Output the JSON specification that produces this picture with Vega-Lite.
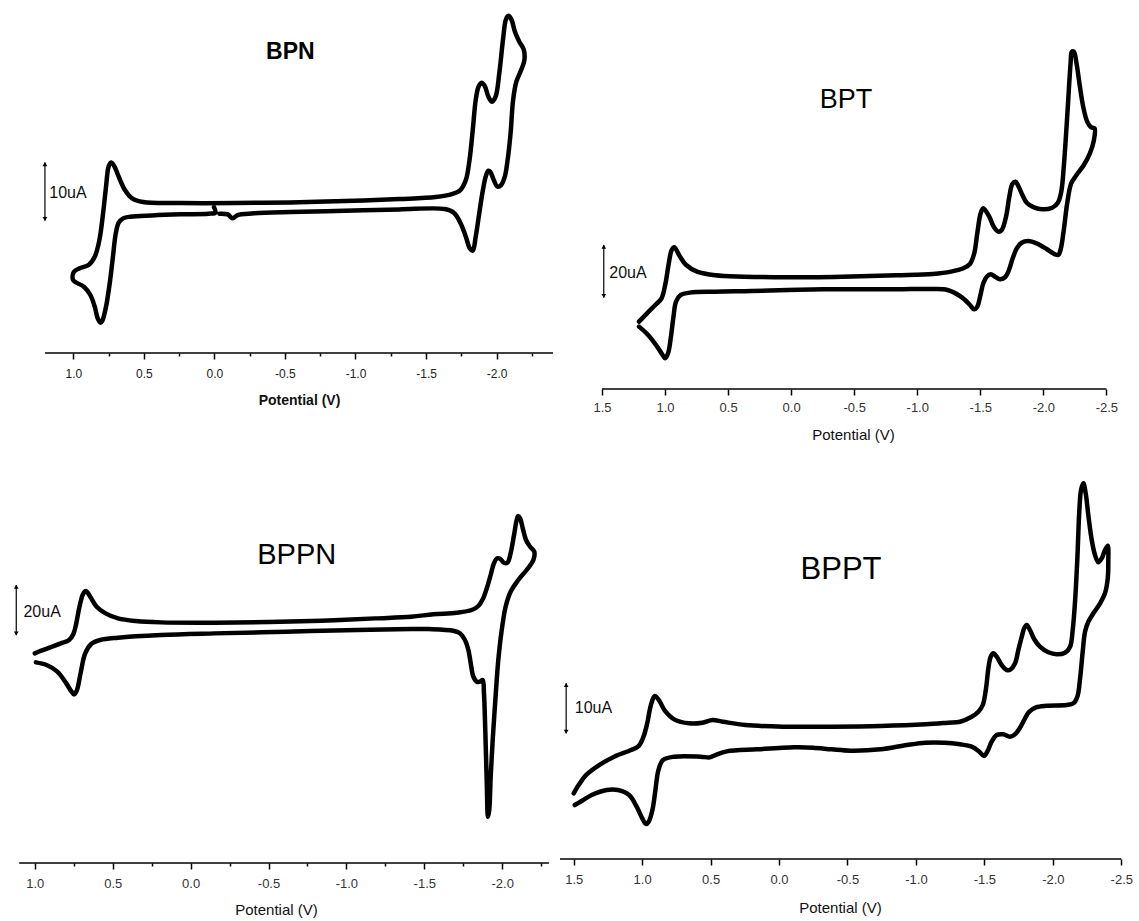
{
  "$schema": "https://vega.github.io/schema/vega-lite/v6.json",
  "background": "white",
  "padding": {"left": 10, "top": 5, "right": 0, "bottom": 0},
  "columns": 2,
  "align": "each",
  "bounds": "flush",
  "spacing": {"row": 81, "column": 6},
  "config": {
    "view": {"stroke": null},
    "font": "Liberation Sans",
    "axisY": {"disable": true},
    "axisX": {
      "domain": false, "grid": false, "tickColor": "black", "tickWidth": 1.5,
      "labelFont": "Liberation Sans", "titleFont": "Liberation Sans",
      "labelFlush": false, "labelOverlap": false, "labelBound": false,
      "titleBaseline": "middle", "titleAlign": "center",
      "labelExpr": "abs(datum.value*2 - round(datum.value*2)) < 0.01 ? (datum.value < -0.001 ? '-' : '') + format(abs(datum.value), '.1f') : ''",
      "tickSize": {"condition": {"test": "abs(datum.value*2 - round(datum.value*2)) < 0.01", "value": 6}, "value": 3}
    }
  },
  "datasets": {
    "bpn": [
      {"o":1,"v":0.003,"i":-0.11},{"o":2,"v":-0.007,"i":-1.03},{"o":3,"v":0.042,"i":-1.2},{"o":4,"v":0.235,"i":-1.31},
      {"o":5,"v":0.441,"i":-1.49},{"o":6,"v":0.596,"i":-1.71},{"o":7,"v":0.647,"i":-2.0},{"o":8,"v":0.678,"i":-2.74},
      {"o":9,"v":0.699,"i":-4.57},{"o":10,"v":0.719,"i":-8.57},{"o":11,"v":0.742,"i":-13.14},{"o":12,"v":0.768,"i":-17.14},
      {"o":13,"v":0.794,"i":-19.54},{"o":14,"v":0.807,"i":-19.89},{"o":15,"v":0.827,"i":-19.14},{"o":16,"v":0.848,"i":-17.14},
      {"o":17,"v":0.879,"i":-15.14},{"o":18,"v":0.925,"i":-13.71},{"o":19,"v":0.977,"i":-13.03},{"o":20,"v":1.003,"i":-12.46},
      {"o":21,"v":0.995,"i":-11.14},{"o":22,"v":0.956,"i":-10.57},{"o":23,"v":0.892,"i":-10.0},{"o":24,"v":0.848,"i":-8.57},
      {"o":25,"v":0.815,"i":-5.71},{"o":26,"v":0.789,"i":-1.14},{"o":27,"v":0.768,"i":3.43},{"o":28,"v":0.75,"i":6.86},
      {"o":29,"v":0.732,"i":7.6},{"o":30,"v":0.711,"i":7.03},{"o":31,"v":0.678,"i":5.14},{"o":32,"v":0.634,"i":2.86},
      {"o":33,"v":0.583,"i":1.43},{"o":34,"v":0.505,"i":0.8},{"o":35,"v":0.235,"i":0.63},{"o":36,"v":-0.151,"i":0.63},
      {"o":37,"v":-0.538,"i":0.74},{"o":38,"v":-0.924,"i":0.97},{"o":39,"v":-1.311,"i":1.31},{"o":40,"v":-1.568,"i":1.66},
      {"o":41,"v":-1.684,"i":2.17},{"o":42,"v":-1.743,"i":2.86},{"o":43,"v":-1.782,"i":4.57},{"o":44,"v":-1.808,"i":8.0},
      {"o":45,"v":-1.831,"i":13.14},{"o":46,"v":-1.852,"i":18.29},{"o":47,"v":-1.872,"i":20.57},{"o":48,"v":-1.893,"i":21.26},
      {"o":49,"v":-1.916,"i":20.69},{"o":50,"v":-1.942,"i":18.86},{"o":51,"v":-1.968,"i":18.0},{"o":52,"v":-1.993,"i":18.86},
      {"o":53,"v":-2.019,"i":22.86},{"o":54,"v":-2.045,"i":28.57},{"o":55,"v":-2.065,"i":32.0},{"o":56,"v":-2.083,"i":32.74},
      {"o":57,"v":-2.104,"i":32.17},{"o":58,"v":-2.13,"i":30.0},{"o":59,"v":-2.161,"i":28.29},{"o":60,"v":-2.192,"i":26.97},
      {"o":61,"v":-2.197,"i":25.14},{"o":62,"v":-2.174,"i":23.43},{"o":63,"v":-2.14,"i":21.43},{"o":64,"v":-2.117,"i":18.29},
      {"o":65,"v":-2.099,"i":12.57},{"o":66,"v":-2.078,"i":8.0},{"o":67,"v":-2.058,"i":5.14},{"o":68,"v":-2.032,"i":3.71},
      {"o":69,"v":-2.006,"i":3.43},{"o":70,"v":-1.98,"i":4.57},{"o":71,"v":-1.955,"i":6.0},{"o":72,"v":-1.942,"i":6.17},
      {"o":73,"v":-1.924,"i":5.26},{"o":74,"v":-1.903,"i":2.86},{"o":75,"v":-1.877,"i":-1.14},{"o":76,"v":-1.852,"i":-5.14},
      {"o":77,"v":-1.831,"i":-7.54},{"o":78,"v":-1.81,"i":-7.14},{"o":79,"v":-1.782,"i":-5.14},{"o":80,"v":-1.743,"i":-2.74},
      {"o":81,"v":-1.697,"i":-1.03},{"o":82,"v":-1.633,"i":-0.4},{"o":83,"v":-1.311,"i":-0.46},{"o":84,"v":-0.924,"i":-0.69},
      {"o":85,"v":-0.538,"i":-0.91},{"o":86,"v":-0.28,"i":-1.14},{"o":87,"v":-0.164,"i":-1.43},{"o":88,"v":-0.131,"i":-2.0},
      {"o":89,"v":-0.113,"i":-1.71},{"o":90,"v":-0.095,"i":-1.31},{"o":91,"v":-0.036,"i":-1.2}
    ],
    "bpt": [
      {"o":1,"v":1.2065,"i":-16.46},{"o":2,"v":1.1345,"i":-19.62},{"o":3,"v":1.0626,"i":-24.05},{"o":4,"v":1.0194,"i":-27.22},
      {"o":5,"v":0.9993,"i":-28.48},{"o":6,"v":0.9763,"i":-26.58},{"o":7,"v":0.9532,"i":-20.25},{"o":8,"v":0.9331,"i":-12.66},
      {"o":9,"v":0.9129,"i":-6.96},{"o":10,"v":0.8755,"i":-4.43},{"o":11,"v":0.8036,"i":-3.54},{"o":12,"v":0.6022,"i":-3.16},
      {"o":13,"v":0.3144,"i":-2.91},{"o":14,"v":0.0266,"i":-2.53},{"o":15,"v":-0.2612,"i":-2.28},{"o":16,"v":-0.5489,"i":-2.28},
      {"o":17,"v":-0.8367,"i":-2.28},{"o":18,"v":-1.1245,"i":-2.15},{"o":19,"v":-1.2396,"i":-2.53},{"o":20,"v":-1.339,"i":-4.82},
      {"o":21,"v":-1.379,"i":-6.34},{"o":22,"v":-1.418,"i":-8.24},{"o":23,"v":-1.45,"i":-9.87},{"o":24,"v":-1.476,"i":-8.89},
      {"o":25,"v":-1.498,"i":-5.09},{"o":26,"v":-1.524,"i":0.0},{"o":27,"v":-1.551,"i":2.51},{"o":28,"v":-1.583,"i":3.42},
      {"o":29,"v":-1.617,"i":2.51},{"o":30,"v":-1.656,"i":1.52},{"o":31,"v":-1.696,"i":2.28},{"o":32,"v":-1.722,"i":4.41},
      {"o":33,"v":-1.757,"i":9.49},{"o":34,"v":-1.789,"i":13.29},{"o":35,"v":-1.828,"i":15.42},{"o":36,"v":-1.881,"i":16.07},
      {"o":37,"v":-1.947,"i":15.19},{"o":38,"v":-2.026,"i":13.03},{"o":39,"v":-2.092,"i":11.01},{"o":40,"v":-2.118,"i":10.75},
      {"o":41,"v":-2.136,"i":12.65},{"o":42,"v":-2.162,"i":20.24},{"o":43,"v":-2.189,"i":30.38},{"o":44,"v":-2.221,"i":37.98},
      {"o":45,"v":-2.263,"i":41.13},{"o":46,"v":-2.321,"i":44.93},{"o":47,"v":-2.369,"i":49.37},{"o":48,"v":-2.401,"i":54.42},
      {"o":49,"v":-2.406,"i":58.87},{"o":50,"v":-2.38,"i":59.25},{"o":51,"v":-2.348,"i":61.39},{"o":52,"v":-2.316,"i":67.07},
      {"o":53,"v":-2.29,"i":74.67},{"o":54,"v":-2.263,"i":83.55},{"o":55,"v":-2.242,"i":87.96},{"o":56,"v":-2.226,"i":87.96},
      {"o":57,"v":-2.216,"i":83.55},{"o":58,"v":-2.202,"i":73.41},{"o":59,"v":-2.184,"i":59.48},{"o":60,"v":-2.162,"i":44.28},
      {"o":61,"v":-2.142,"i":34.79},{"o":62,"v":-2.115,"i":30.61},{"o":63,"v":-2.07,"i":28.71},{"o":64,"v":-1.991,"i":28.1},
      {"o":65,"v":-1.925,"i":28.86},{"o":66,"v":-1.868,"i":30.61},{"o":67,"v":-1.834,"i":33.54},{"o":68,"v":-1.798,"i":37.33},
      {"o":69,"v":-1.779,"i":38.59},{"o":70,"v":-1.754,"i":37.71},{"o":71,"v":-1.73,"i":32.89},{"o":72,"v":-1.704,"i":25.29},
      {"o":73,"v":-1.67,"i":20.24},{"o":74,"v":-1.643,"i":19.6},{"o":75,"v":-1.609,"i":21.27},{"o":76,"v":-1.571,"i":25.29},
      {"o":77,"v":-1.524,"i":28.48},{"o":78,"v":-1.503,"i":26.59},{"o":79,"v":-1.476,"i":18.99},{"o":80,"v":-1.452,"i":11.39},
      {"o":81,"v":-1.418,"i":7.33},{"o":82,"v":-1.366,"i":5.7},{"o":83,"v":-1.2683,"i":4.43},{"o":84,"v":-1.1245,"i":3.54},
      {"o":85,"v":-0.8367,"i":3.04},{"o":86,"v":-0.405,"i":2.53},{"o":87,"v":0.0266,"i":2.28},{"o":88,"v":0.372,"i":2.53},
      {"o":89,"v":0.6022,"i":3.04},{"o":90,"v":0.746,"i":4.43},{"o":91,"v":0.8324,"i":6.96},{"o":92,"v":0.8813,"i":10.13},
      {"o":93,"v":0.9129,"i":12.91},{"o":94,"v":0.9273,"i":13.67},{"o":95,"v":0.9475,"i":12.66},{"o":96,"v":0.9705,"i":7.59},
      {"o":97,"v":0.9964,"i":0.0},{"o":98,"v":1.028,"i":-5.7},{"o":99,"v":1.077,"i":-8.23},{"o":100,"v":1.143,"i":-11.39},
      {"o":101,"v":1.2065,"i":-14.56}
    ],
    "bppn": [
      {"o":1,"v":0.9931,"i":-14.27},{"o":2,"v":0.9243,"i":-15.33},{"o":3,"v":0.8555,"i":-18.0},{"o":4,"v":0.7982,"i":-22.67},
      {"o":5,"v":0.7638,"i":-26.0},{"o":6,"v":0.7477,"i":-27.07},{"o":7,"v":0.7294,"i":-25.33},{"o":8,"v":0.7064,"i":-18.67},
      {"o":9,"v":0.6766,"i":-10.67},{"o":10,"v":0.6376,"i":-6.93},{"o":11,"v":0.5803,"i":-5.33},{"o":12,"v":0.4656,"i":-4.4},
      {"o":13,"v":0.1904,"i":-3.33},{"o":14,"v":-0.1537,"i":-2.67},{"o":15,"v":-0.6124,"i":-2.0},{"o":16,"v":-1.0711,"i":-1.33},
      {"o":17,"v":-1.4151,"i":-0.93},{"o":18,"v":-1.5298,"i":-0.93},{"o":19,"v":-1.686,"i":-1.6},{"o":20,"v":-1.729,"i":-2.64},
      {"o":21,"v":-1.761,"i":-5.32},{"o":22,"v":-1.783,"i":-9.32},{"o":23,"v":-1.798,"i":-14.64},{"o":24,"v":-1.815,"i":-20.0},
      {"o":25,"v":-1.837,"i":-22.0},{"o":26,"v":-1.858,"i":-22.0},{"o":27,"v":-1.875,"i":-21.32},{"o":28,"v":-1.883,"i":-26.64},
      {"o":29,"v":-1.892,"i":-42.64},{"o":30,"v":-1.901,"i":-62.64},{"o":31,"v":-1.909,"i":-76.0},{"o":32,"v":-1.917,"i":-73.32},
      {"o":33,"v":-1.926,"i":-60.0},{"o":34,"v":-1.939,"i":-45.32},{"o":35,"v":-1.956,"i":-29.32},{"o":36,"v":-1.975,"i":-13.32},
      {"o":37,"v":-1.997,"i":-1.32},{"o":38,"v":-2.022,"i":8.0},{"o":39,"v":-2.054,"i":14.0},{"o":40,"v":-2.103,"i":18.68},
      {"o":41,"v":-2.157,"i":22.68},{"o":42,"v":-2.2,"i":26.68},{"o":43,"v":-2.206,"i":30.0},{"o":44,"v":-2.179,"i":32.0},
      {"o":45,"v":-2.153,"i":34.68},{"o":46,"v":-2.132,"i":39.36},{"o":47,"v":-2.115,"i":43.36},{"o":48,"v":-2.103,"i":44.28},
      {"o":49,"v":-2.093,"i":42.68},{"o":50,"v":-2.076,"i":36.68},{"o":51,"v":-2.054,"i":29.36},{"o":52,"v":-2.033,"i":25.6},
      {"o":53,"v":-2.011,"i":25.6},{"o":54,"v":-1.986,"i":27.2},{"o":55,"v":-1.968,"i":27.36},{"o":56,"v":-1.947,"i":25.36},
      {"o":57,"v":-1.926,"i":20.68},{"o":58,"v":-1.901,"i":15.36},{"o":59,"v":-1.875,"i":10.96},{"o":60,"v":-1.847,"i":8.28},
      {"o":61,"v":-1.804,"i":6.68},{"o":62,"v":-1.708,"i":5.6},{"o":63,"v":-1.558,"i":4.96},{"o":64,"v":-1.4151,"i":4.0},
      {"o":65,"v":-1.1858,"i":3.33},{"o":66,"v":-0.8417,"i":2.4},{"o":67,"v":-0.4977,"i":1.87},{"o":68,"v":-0.1537,"i":1.6},
      {"o":69,"v":0.1904,"i":1.73},{"o":70,"v":0.3509,"i":2.27},{"o":71,"v":0.4656,"i":3.33},{"o":72,"v":0.5459,"i":5.33},
      {"o":73,"v":0.6032,"i":8.0},{"o":74,"v":0.6445,"i":12.0},{"o":75,"v":0.672,"i":14.27},{"o":76,"v":0.6904,"i":13.07},
      {"o":77,"v":0.7133,"i":8.0},{"o":78,"v":0.7339,"i":1.33},{"o":79,"v":0.7523,"i":-2.93},{"o":80,"v":0.7798,"i":-5.33},
      {"o":81,"v":0.8326,"i":-6.67},{"o":82,"v":0.9014,"i":-8.27},{"o":83,"v":0.9587,"i":-9.6},{"o":84,"v":1.0,"i":-10.67}
    ],
    "bppt": [
      {"o":1,"v":1.5,"i":-11.33},{"o":2,"v":1.464,"i":-9.67},{"o":3,"v":1.41,"i":-7.67},{"o":4,"v":1.314,"i":-5.67},
      {"o":5,"v":1.204,"i":-4.0},{"o":6,"v":1.081,"i":-2.67},{"o":7,"v":1.026,"i":-1.87},{"o":8,"v":0.99,"i":0.0},
      {"o":9,"v":0.963,"i":2.67},{"o":10,"v":0.936,"i":6.33},{"o":11,"v":0.908,"i":8.13},{"o":12,"v":0.875,"i":7.2},
      {"o":13,"v":0.834,"i":5.2},{"o":14,"v":0.766,"i":3.47},{"o":15,"v":0.656,"i":2.67},{"o":16,"v":0.56,"i":2.8},
      {"o":17,"v":0.486,"i":3.33},{"o":18,"v":0.41,"i":3.0},{"o":19,"v":0.245,"i":2.33},{"o":20,"v":-0.029,"i":2.0},
      {"o":21,"v":-0.385,"i":2.0},{"o":22,"v":-0.741,"i":2.13},{"o":23,"v":-1.07,"i":2.47},{"o":24,"v":-1.234,"i":2.8},
      {"o":25,"v":-1.322,"i":3.0},{"o":26,"v":-1.407,"i":4.0},{"o":27,"v":-1.456,"i":5.0},{"o":28,"v":-1.488,"i":6.34},
      {"o":29,"v":-1.512,"i":9.68},{"o":30,"v":-1.529,"i":13.68},{"o":31,"v":-1.546,"i":16.0},{"o":32,"v":-1.565,"i":16.68},
      {"o":33,"v":-1.59,"i":16.0},{"o":34,"v":-1.626,"i":14.34},{"o":35,"v":-1.663,"i":13.34},{"o":36,"v":-1.692,"i":13.48},
      {"o":37,"v":-1.724,"i":14.68},{"o":38,"v":-1.748,"i":17.34},{"o":39,"v":-1.773,"i":20.0},{"o":40,"v":-1.792,"i":21.8},
      {"o":41,"v":-1.809,"i":22.34},{"o":42,"v":-1.833,"i":21.34},{"o":43,"v":-1.863,"i":19.54},{"o":44,"v":-1.906,"i":18.0},
      {"o":45,"v":-1.967,"i":16.88},{"o":46,"v":-2.028,"i":16.48},{"o":47,"v":-2.089,"i":16.8},{"o":48,"v":-2.126,"i":18.0},
      {"o":49,"v":-2.145,"i":21.34},{"o":50,"v":-2.162,"i":27.0},{"o":51,"v":-2.179,"i":35.68},{"o":52,"v":-2.193,"i":45.0},
      {"o":53,"v":-2.206,"i":49.34},{"o":54,"v":-2.223,"i":50.68},{"o":55,"v":-2.24,"i":48.68},{"o":56,"v":-2.259,"i":44.34},
      {"o":57,"v":-2.284,"i":39.34},{"o":58,"v":-2.308,"i":36.34},{"o":59,"v":-2.332,"i":34.88},{"o":60,"v":-2.357,"i":35.68},
      {"o":61,"v":-2.381,"i":37.34},{"o":62,"v":-2.401,"i":38.2},{"o":63,"v":-2.405,"i":35.0},{"o":64,"v":-2.401,"i":31.68},
      {"o":65,"v":-2.381,"i":28.68},{"o":66,"v":-2.345,"i":26.68},{"o":67,"v":-2.296,"i":24.68},{"o":68,"v":-2.259,"i":23.0},
      {"o":69,"v":-2.235,"i":21.0},{"o":70,"v":-2.218,"i":17.0},{"o":71,"v":-2.199,"i":11.68},{"o":72,"v":-2.179,"i":8.0},
      {"o":73,"v":-2.15,"i":6.68},{"o":74,"v":-2.101,"i":6.34},{"o":75,"v":-1.955,"i":6.2},{"o":76,"v":-1.877,"i":5.88},
      {"o":77,"v":-1.828,"i":5.0},{"o":78,"v":-1.797,"i":3.68},{"o":79,"v":-1.76,"i":1.8},{"o":80,"v":-1.724,"i":0.48},
      {"o":81,"v":-1.687,"i":0.0},{"o":82,"v":-1.638,"i":0.48},{"o":83,"v":-1.59,"i":0.34},{"o":84,"v":-1.553,"i":-1.0},
      {"o":85,"v":-1.521,"i":-3.0},{"o":86,"v":-1.497,"i":-3.86},{"o":87,"v":-1.463,"i":-3.0},{"o":88,"v":-1.407,"i":-2.0},
      {"o":89,"v":-1.322,"i":-1.52},{"o":90,"v":-1.207,"i":-1.2},{"o":91,"v":-1.07,"i":-1.2},{"o":92,"v":-0.933,"i":-1.67},
      {"o":93,"v":-0.741,"i":-2.53},{"o":94,"v":-0.522,"i":-2.8},{"o":95,"v":-0.385,"i":-2.53},{"o":96,"v":-0.248,"i":-2.2},
      {"o":97,"v":-0.111,"i":-2.13},{"o":98,"v":0.163,"i":-2.53},{"o":99,"v":0.382,"i":-2.93},{"o":100,"v":0.464,"i":-3.67},
      {"o":101,"v":0.506,"i":-4.13},{"o":102,"v":0.574,"i":-4.0},{"o":103,"v":0.766,"i":-4.0},{"o":104,"v":0.848,"i":-4.67},
      {"o":105,"v":0.881,"i":-6.67},{"o":106,"v":0.903,"i":-10.67},{"o":107,"v":0.925,"i":-14.67},{"o":108,"v":0.952,"i":-17.0},
      {"o":109,"v":0.971,"i":-17.47},{"o":110,"v":0.999,"i":-16.33},{"o":111,"v":1.04,"i":-14.0},{"o":112,"v":1.095,"i":-11.67},
      {"o":113,"v":1.177,"i":-10.67},{"o":114,"v":1.259,"i":-10.67},{"o":115,"v":1.368,"i":-11.67},{"o":116,"v":1.451,"i":-13.0},
      {"o":117,"v":1.492,"i":-13.67}
    ]
  },
  "concat": [
    {
      "width": 544, "height": 348,
      "layer": [
        {
          "data": {"name": "bpn"},
          "mark": {"type": "line", "stroke": "black", "strokeWidth": 4.5, "interpolate": "catmull-rom", "strokeJoin": "round", "strokeCap": "round"},
          "encoding": {
            "x": {"field": "v", "type": "quantitative",
                  "scale": {"domain": [-2.4068, 1.4486], "reverse": true, "nice": false, "zero": false},
                  "axis": {"values": [1, 0.75, 0.5, 0.25, 0, -0.25, -0.5, -0.75, -1, -1.25, -1.5, -1.75, -2, -2.25],
                           "title": "Potential (V)", "titleFontSize": 14, "titleFontWeight": "bold", "titleColor": "#111",
                           "labelFontSize": 12, "labelColor": "#222", "labelPadding": 9, "titleX": 289, "titleY": 47}},
            "y": {"field": "i", "type": "quantitative", "scale": {"domain": [-25.08, 34.58], "nice": false, "zero": false}},
            "order": {"field": "o"}
          }
        },
        {"data": {"values": [{}]}, "mark": {"type": "rule", "stroke": "black", "strokeWidth": 1.5},
         "encoding": {"x": {"datum": 1.2, "type": "quantitative"}, "x2": {"datum": -2.4}, "y": {"datum": -25.08, "type": "quantitative"}}},
        {"data": {"values": [{}]}, "mark": {"type": "rule", "stroke": "black", "strokeWidth": 1.2},
         "encoding": {"x": {"datum": 1.201, "type": "quantitative"}, "y": {"datum": 7.6, "type": "quantitative"}, "y2": {"datum": -2.4}}},
        {"data": {"values": [{}]}, "mark": {"type": "point", "shape": "triangle-up", "filled": true, "color": "black", "size": 22, "opacity": 1},
         "encoding": {"x": {"datum": 1.201, "type": "quantitative"}, "y": {"datum": 7.3, "type": "quantitative"}}},
        {"data": {"values": [{}]}, "mark": {"type": "point", "shape": "triangle-down", "filled": true, "color": "black", "size": 22, "opacity": 1},
         "encoding": {"x": {"datum": 1.201, "type": "quantitative"}, "y": {"datum": -2.1, "type": "quantitative"}}},
        {"data": {"values": [{}]}, "mark": {"type": "text", "text": "10uA", "fontSize": 16, "align": "left", "baseline": "middle", "color": "#111"},
         "encoding": {"x": {"datum": 1.17, "type": "quantitative"}, "y": {"datum": 2.4, "type": "quantitative"}}},
        {"data": {"values": [{}]}, "mark": {"type": "text", "text": "BPN", "fontSize": 23, "fontWeight": "bold", "align": "center", "baseline": "middle", "color": "black"},
         "encoding": {"x": {"datum": -0.538, "type": "quantitative"}, "y": {"datum": 26.57, "type": "quantitative"}}}
      ]
    },
    {
      "width": 562, "height": 384,
      "layer": [
        {
          "data": {"name": "bpt"},
          "mark": {"type": "line", "stroke": "black", "strokeWidth": 4.5, "interpolate": "catmull-rom", "strokeJoin": "round", "strokeCap": "round"},
          "encoding": {
            "x": {"field": "v", "type": "quantitative",
                  "scale": {"domain": [-2.6237, 1.8331], "reverse": true, "nice": false, "zero": false},
                  "axis": {"values": [1.5, 1.25, 1, 0.75, 0.5, 0.25, 0, -0.25, -0.5, -0.75, -1, -1.25, -1.5, -1.75, -2, -2.25, -2.5],
                           "title": "Potential (V)", "titleFontSize": 15, "titleFontWeight": "normal", "titleColor": "#111",
                           "labelFontSize": 13, "labelColor": "#333", "labelPadding": 6, "titleX": 293, "titleY": 45.5}},
            "y": {"field": "i", "type": "quantitative", "scale": {"domain": [-40.14, 105.7], "nice": false, "zero": false}},
            "order": {"field": "o"}
          }
        },
        {"data": {"values": [{}]}, "mark": {"type": "rule", "stroke": "black", "strokeWidth": 1.5},
         "encoding": {"x": {"datum": 1.5, "type": "quantitative"}, "x2": {"datum": -2.5}, "y": {"datum": -40.14, "type": "quantitative"}}},
        {"data": {"values": [{}]}, "mark": {"type": "rule", "stroke": "black", "strokeWidth": 1.2},
         "encoding": {"x": {"datum": 1.486, "type": "quantitative"}, "y": {"datum": 14.56, "type": "quantitative"}, "y2": {"datum": -5.44}}},
        {"data": {"values": [{}]}, "mark": {"type": "point", "shape": "triangle-up", "filled": true, "color": "black", "size": 22, "opacity": 1},
         "encoding": {"x": {"datum": 1.486, "type": "quantitative"}, "y": {"datum": 13.9, "type": "quantitative"}}},
        {"data": {"values": [{}]}, "mark": {"type": "point", "shape": "triangle-down", "filled": true, "color": "black", "size": 22, "opacity": 1},
         "encoding": {"x": {"datum": 1.486, "type": "quantitative"}, "y": {"datum": -4.8, "type": "quantitative"}}},
        {"data": {"values": [{}]}, "mark": {"type": "text", "text": "20uA", "fontSize": 16, "align": "left", "baseline": "middle", "color": "#111"},
         "encoding": {"x": {"datum": 1.442, "type": "quantitative"}, "y": {"datum": 3.8, "type": "quantitative"}}},
        {"data": {"values": [{}]}, "mark": {"type": "text", "text": "BPT", "fontSize": 27, "align": "center", "baseline": "middle", "color": "black"},
         "encoding": {"x": {"datum": -0.434, "type": "quantitative"}, "y": {"datum": 69.6, "type": "quantitative"}}}
      ]
    },
    {
      "width": 544, "height": 393,
      "layer": [
        {
          "data": {"name": "bppn"},
          "mark": {"type": "line", "stroke": "black", "strokeWidth": 4.5, "interpolate": "catmull-rom", "strokeJoin": "round", "strokeCap": "round"},
          "encoding": {
            "x": {"field": "v", "type": "quantitative",
                  "scale": {"domain": [-2.3325, 1.1592], "reverse": true, "nice": false, "zero": false},
                  "axis": {"values": [1, 0.75, 0.5, 0.25, 0, -0.25, -0.5, -0.75, -1, -1.25, -1.5, -1.75, -2, -2.25],
                           "title": "Potential (V)", "titleFontSize": 15, "titleFontWeight": "normal", "titleColor": "#111",
                           "labelFontSize": 13, "labelColor": "#333", "labelPadding": 8, "titleX": 266, "titleY": 46.7}},
            "y": {"field": "i", "type": "quantitative", "scale": {"domain": [-94.52, 62.68], "nice": false, "zero": false}},
            "order": {"field": "o"}
          }
        },
        {"data": {"values": [{}]}, "mark": {"type": "rule", "stroke": "black", "strokeWidth": 1.5},
         "encoding": {"x": {"datum": 1.1, "type": "quantitative"}, "x2": {"datum": -2.3}, "y": {"datum": -94.52, "type": "quantitative"}}},
        {"data": {"values": [{}]}, "mark": {"type": "rule", "stroke": "black", "strokeWidth": 1.2},
         "encoding": {"x": {"datum": 1.119, "type": "quantitative"}, "y": {"datum": 16.67, "type": "quantitative"}, "y2": {"datum": -3.33}}},
        {"data": {"values": [{}]}, "mark": {"type": "point", "shape": "triangle-up", "filled": true, "color": "black", "size": 22, "opacity": 1},
         "encoding": {"x": {"datum": 1.119, "type": "quantitative"}, "y": {"datum": 16.0, "type": "quantitative"}}},
        {"data": {"values": [{}]}, "mark": {"type": "point", "shape": "triangle-down", "filled": true, "color": "black", "size": 22, "opacity": 1},
         "encoding": {"x": {"datum": 1.119, "type": "quantitative"}, "y": {"datum": -2.7, "type": "quantitative"}}},
        {"data": {"values": [{}]}, "mark": {"type": "text", "text": "20uA", "fontSize": 16, "align": "left", "baseline": "middle", "color": "#111"},
         "encoding": {"x": {"datum": 1.073, "type": "quantitative"}, "y": {"datum": 6.0, "type": "quantitative"}}},
        {"data": {"values": [{}]}, "mark": {"type": "text", "text": "BPPN", "fontSize": 29, "align": "center", "baseline": "middle", "color": "black"},
         "encoding": {"x": {"datum": -0.681, "type": "quantitative"}, "y": {"datum": 28.67, "type": "quantitative"}}}
      ]
    },
    {
      "width": 562, "height": 389,
      "layer": [
        {
          "data": {"name": "bppt"},
          "mark": {"type": "line", "stroke": "black", "strokeWidth": 4.5, "interpolate": "catmull-rom", "strokeJoin": "round", "strokeCap": "round"},
          "encoding": {
            "x": {"field": "v", "type": "quantitative",
                  "scale": {"domain": [-2.5051, 1.6], "reverse": true, "nice": false, "zero": false},
                  "axis": {"values": [1.5, 1.25, 1, 0.75, 0.5, 0.25, 0, -0.25, -0.5, -0.75, -1, -1.25, -1.5, -1.75, -2, -2.25, -2.5],
                           "title": "Potential (V)", "titleFontSize": 15, "titleFontWeight": "normal", "titleColor": "#111",
                           "labelFontSize": 13, "labelColor": "#333", "labelPadding": 8, "titleX": 280, "titleY": 48}},
            "y": {"field": "i", "type": "quantitative", "scale": {"domain": [-24.46, 53.34], "nice": false, "zero": false}},
            "order": {"field": "o"}
          }
        },
        {"data": {"values": [{}]}, "mark": {"type": "rule", "stroke": "black", "strokeWidth": 1.5},
         "encoding": {"x": {"datum": 1.6, "type": "quantitative"}, "x2": {"datum": -2.5}, "y": {"datum": -24.46, "type": "quantitative"}}},
        {"data": {"values": [{}]}, "mark": {"type": "rule", "stroke": "black", "strokeWidth": 1.2},
         "encoding": {"x": {"datum": 1.555, "type": "quantitative"}, "y": {"datum": 10.67, "type": "quantitative"}, "y2": {"datum": 0.67}}},
        {"data": {"values": [{}]}, "mark": {"type": "point", "shape": "triangle-up", "filled": true, "color": "black", "size": 22, "opacity": 1},
         "encoding": {"x": {"datum": 1.555, "type": "quantitative"}, "y": {"datum": 10.35, "type": "quantitative"}}},
        {"data": {"values": [{}]}, "mark": {"type": "point", "shape": "triangle-down", "filled": true, "color": "black", "size": 22, "opacity": 1},
         "encoding": {"x": {"datum": 1.555, "type": "quantitative"}, "y": {"datum": 0.99, "type": "quantitative"}}},
        {"data": {"values": [{}]}, "mark": {"type": "text", "text": "10uA", "fontSize": 16, "align": "left", "baseline": "middle", "color": "#111"},
         "encoding": {"x": {"datum": 1.492, "type": "quantitative"}, "y": {"datum": 5.67, "type": "quantitative"}}},
        {"data": {"values": [{}]}, "mark": {"type": "text", "text": "BPPT", "fontSize": 31, "align": "center", "baseline": "middle", "color": "black"},
         "encoding": {"x": {"datum": -0.453, "type": "quantitative"}, "y": {"datum": 33.33, "type": "quantitative"}}}
      ]
    }
  ]
}
